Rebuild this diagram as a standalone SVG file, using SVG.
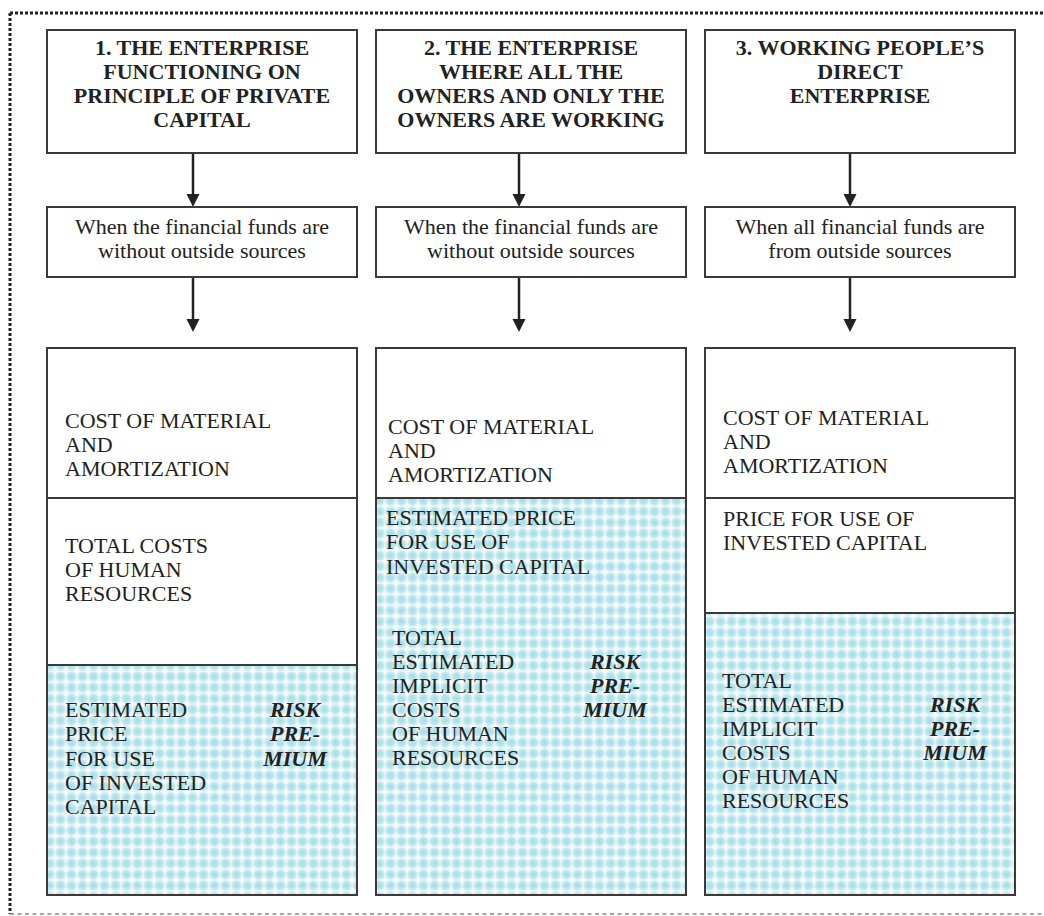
<svg xmlns="http://www.w3.org/2000/svg" width="1044" height="916" viewBox="0 0 1044 916">
<style>
.box{fill:#fff;stroke:#3a3a3a;stroke-width:2}
.pat{fill:url(#grid);stroke:none}
.div{stroke:#3a3a3a;stroke-width:2}
.hd{font-family:"Liberation Serif",serif;font-weight:bold;font-size:22px;fill:#222;text-anchor:middle}
.cd{font-family:"Liberation Serif",serif;font-size:22px;fill:#222;text-anchor:middle}
.tx{font-family:"Liberation Serif",serif;font-size:22px;fill:#222}
.rk{font-family:"Liberation Serif",serif;font-size:22px;font-weight:bold;font-style:italic;fill:#222;text-anchor:middle}
.ar{stroke:#222;stroke-width:2.5;fill:none}
.ah{fill:#222}
</style>
<defs>
<radialGradient id="blob" cx="0.5" cy="0.5" r="0.55">
<stop offset="0" stop-color="#a6dce5"/>
<stop offset="0.6" stop-color="#bde6ed"/>
<stop offset="1" stop-color="#f2fafb"/>
</radialGradient>
<pattern id="grid" width="11" height="11" patternUnits="userSpaceOnUse">
<rect width="11" height="11" fill="url(#blob)"/>
</pattern>
</defs>
<g id="frame">
<line x1="10" y1="13" x2="1044" y2="13" stroke="#222" stroke-width="3" stroke-dasharray="3 2"/>
<line x1="10" y1="13" x2="10" y2="914" stroke="#222" stroke-width="3" stroke-dasharray="3 2"/>
<line x1="10" y1="914" x2="1044" y2="914" stroke="#888" stroke-width="1.5" stroke-dasharray="4 3.5"/>
</g>
<g id="connectors">
<line class="ar" x1="193" y1="153" x2="193" y2="195"/><polygon class="ah" points="186.5,194 199.5,194 193,207"/>
<line class="ar" x1="193" y1="277" x2="193" y2="320"/><polygon class="ah" points="186.5,319 199.5,319 193,332"/>
<line class="ar" x1="519" y1="153" x2="519" y2="195"/><polygon class="ah" points="512.5,194 525.5,194 519,207"/>
<line class="ar" x1="519" y1="277" x2="519" y2="320"/><polygon class="ah" points="512.5,319 525.5,319 519,332"/>
<line class="ar" x1="850" y1="153" x2="850" y2="195"/><polygon class="ah" points="843.5,194 856.5,194 850,207"/>
<line class="ar" x1="850" y1="277" x2="850" y2="320"/><polygon class="ah" points="843.5,319 856.5,319 850,332"/>
</g>
<g id="header1">
<rect class="box" x="47" y="30" width="310" height="123"/>
<text class="hd" x="202" y="55">1. THE ENTERPRISE</text>
<text class="hd" x="202" y="79">FUNCTIONING ON</text>
<text class="hd" x="202" y="103">PRINCIPLE OF PRIVATE</text>
<text class="hd" x="202" y="127">CAPITAL</text>
</g>
<g id="header2">
<rect class="box" x="376" y="30" width="310" height="123"/>
<text class="hd" x="531" y="55">2. THE ENTERPRISE</text>
<text class="hd" x="531" y="79">WHERE ALL THE</text>
<text class="hd" x="531" y="103">OWNERS AND ONLY THE</text>
<text class="hd" x="531" y="127">OWNERS ARE WORKING</text>
</g>
<g id="header3">
<rect class="box" x="705" y="30" width="310" height="123"/>
<text class="hd" x="860" y="55">3. WORKING PEOPLE’S</text>
<text class="hd" x="860" y="79">DIRECT</text>
<text class="hd" x="860" y="103">ENTERPRISE</text>
</g>
<g id="cond1">
<rect class="box" x="47" y="207" width="310" height="70"/>
<text class="cd" x="202" y="234">When the financial funds are</text>
<text class="cd" x="202" y="258">without outside sources</text>
</g>
<g id="cond2">
<rect class="box" x="376" y="207" width="310" height="70"/>
<text class="cd" x="531" y="234">When the financial funds are</text>
<text class="cd" x="531" y="258">without outside sources</text>
</g>
<g id="cond3">
<rect class="box" x="705" y="207" width="310" height="70"/>
<text class="cd" x="860" y="234">When all financial funds are</text>
<text class="cd" x="860" y="258">from outside sources</text>
</g>
<g id="cost1">
<rect class="box" x="47" y="348" width="310" height="547"/>
<rect class="pat" x="48" y="665" width="308" height="229"/>
<line class="div" x1="47" y1="498" x2="357" y2="498"/>
<line class="div" x1="47" y1="665" x2="357" y2="665"/>
<rect x="47" y="348" width="310" height="547" fill="none" stroke="#3a3a3a" stroke-width="2"/>
<text class="tx" x="65" y="428">COST OF MATERIAL</text>
<text class="tx" x="65" y="452">AND</text>
<text class="tx" x="65" y="476">AMORTIZATION</text>
<text class="tx" x="65" y="553">TOTAL COSTS</text>
<text class="tx" x="65" y="577">OF HUMAN</text>
<text class="tx" x="65" y="601">RESOURCES</text>
<text class="tx" x="65" y="717">ESTIMATED</text>
<text class="tx" x="65" y="741">PRICE</text>
<text class="tx" x="65" y="766">FOR USE</text>
<text class="tx" x="65" y="790">OF INVESTED</text>
<text class="tx" x="65" y="814">CAPITAL</text>
<text class="rk" x="295" y="717">RISK</text>
<text class="rk" x="295" y="741">PRE-</text>
<text class="rk" x="295" y="766">MIUM</text>
</g>
<g id="cost2">
<rect class="box" x="376" y="348" width="310" height="547"/>
<rect class="pat" x="377" y="498" width="308" height="396"/>
<line class="div" x1="376" y1="498" x2="686" y2="498"/>
<rect x="376" y="348" width="310" height="547" fill="none" stroke="#3a3a3a" stroke-width="2"/>
<text class="tx" x="388" y="434">COST OF MATERIAL</text>
<text class="tx" x="388" y="458">AND</text>
<text class="tx" x="388" y="482">AMORTIZATION</text>
<text class="tx" x="386" y="525">ESTIMATED PRICE</text>
<text class="tx" x="386" y="549">FOR USE OF</text>
<text class="tx" x="386" y="574">INVESTED CAPITAL</text>
<text class="tx" x="392" y="645">TOTAL</text>
<text class="tx" x="392" y="669">ESTIMATED</text>
<text class="tx" x="392" y="693">IMPLICIT</text>
<text class="tx" x="392" y="717">COSTS</text>
<text class="tx" x="392" y="741">OF HUMAN</text>
<text class="tx" x="392" y="765">RESOURCES</text>
<text class="rk" x="615" y="669">RISK</text>
<text class="rk" x="615" y="693">PRE-</text>
<text class="rk" x="615" y="717">MIUM</text>
</g>
<g id="cost3">
<rect class="box" x="705" y="348" width="310" height="547"/>
<rect class="pat" x="706" y="613" width="308" height="281"/>
<line class="div" x1="705" y1="498" x2="1015" y2="498"/>
<line class="div" x1="705" y1="613" x2="1015" y2="613"/>
<rect x="705" y="348" width="310" height="547" fill="none" stroke="#3a3a3a" stroke-width="2"/>
<text class="tx" x="723" y="425">COST OF MATERIAL</text>
<text class="tx" x="723" y="449">AND</text>
<text class="tx" x="723" y="473">AMORTIZATION</text>
<text class="tx" x="723" y="526">PRICE FOR USE OF</text>
<text class="tx" x="723" y="550">INVESTED CAPITAL</text>
<text class="tx" x="722" y="688">TOTAL</text>
<text class="tx" x="722" y="712">ESTIMATED</text>
<text class="tx" x="722" y="736">IMPLICIT</text>
<text class="tx" x="722" y="760">COSTS</text>
<text class="tx" x="722" y="784">OF HUMAN</text>
<text class="tx" x="722" y="808">RESOURCES</text>
<text class="rk" x="955" y="712">RISK</text>
<text class="rk" x="955" y="736">PRE-</text>
<text class="rk" x="955" y="760">MIUM</text>
</g>
</svg>
